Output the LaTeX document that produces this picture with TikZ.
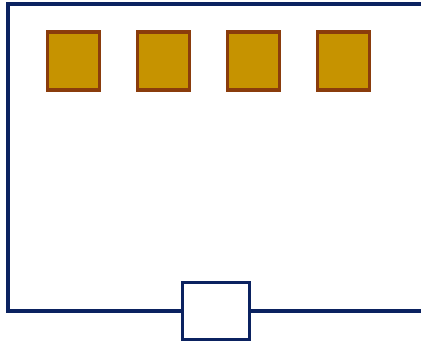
\documentclass[tikz,border=0pt]{standalone}
\usepackage{tikz}

\definecolor{navy}{HTML}{0B2260}
\definecolor{gold}{HTML}{C69300}
\definecolor{rust}{HTML}{8A3C0C}

\tikzset{
  wire/.style={draw=navy, line width=2.8pt},
  chip/.style={draw=rust, fill=gold, line width=2.4pt, inner sep=0pt,
    minimum width=39pt, minimum height=43.5pt},
  plug/.style={draw=navy, fill=white, line width=2.6pt, inner sep=0pt,
    minimum width=50.6pt, minimum height=42.4pt}
}

\begin{document}
\begin{tikzpicture}[x=0.75pt, y=-0.75pt]
\useasboundingbox (0,0) rectangle (421,345);
\node[plug] (box) at (216,311) {};
\coordinate (tr) at (421,4);
\coordinate (tl) at (8,4);
\coordinate (bl) at (8,311);
\coordinate (br) at (421,311);
\draw[wire] (tr) -- (tl) -- (bl) -- (box.west);
\draw[wire] (box.east) -- (br);
\foreach \i/\x in {1/73.5, 2/163.5, 3/253.5, 4/343.5}
  \node[chip] (chip\i) at (\x,61) {};
\end{tikzpicture}
\end{document}
